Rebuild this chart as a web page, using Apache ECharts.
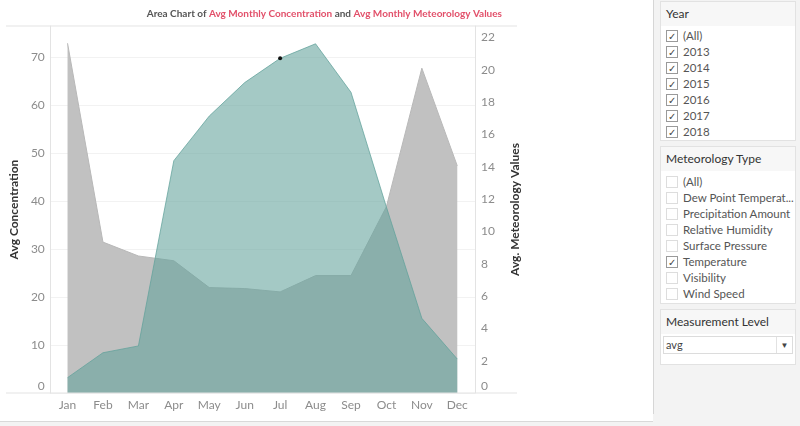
<!DOCTYPE html>
<html>
<head>
<meta charset="utf-8">
<script src="https://cdn.jsdelivr.net/npm/echarts@6/dist/echarts.min.js"></script>
<style>
  body { margin: 0; width: 800px; height: 426px; background: #f3f3f3; position: relative; overflow: hidden; font-family: Lato, "Noto Sans", sans-serif; }
  #chart { position: absolute; left: 0; top: 0; width: 653px; height: 421px; background: #fff; }
  .vline { position: absolute; left: 653px; top: 0; width: 1px; height: 414px; background: #d6d6d6; }
  .hline { position: absolute; left: 0; top: 421px; width: 653px; height: 1px; background: #d9d9d9; }
  .box { position: absolute; left: 660px; width: 136px; background: #fff; border: 1px solid #e2e2e2; box-sizing: border-box; overflow: hidden; }
  .hdr { height: 24px; line-height: 24px; padding-left: 5px; font-size: 12px; color: #333; background: #f7f7f7; }
  .row { height: 16px; line-height: 16px; font-size: 11.5px; color: #555; white-space: nowrap; position: relative; padding-left: 22px; }
  .cb { position: absolute; left: 5px; top: 2px; width: 10px; height: 10px; border: 1px solid #ddd; background: #fff; font-size: 10px; line-height: 10px; text-align: center; color: #444; }
  .cb.on { border-color: #9a9a9a; }
  .dd { margin: 2px 2px 0 2px; height: 16px; border: 1px solid #dcdcdc; font-size: 11px; line-height: 16px; padding-left: 2px; color: #444; position: relative; }
  .dd .arr { position: absolute; right: 0; top: 0; width: 15px; height: 16px; border-left: 1px solid #e2e2e2; text-align: center; font-size: 8px; }
</style>
</head>
<body>
<div id="chart"></div>
<div class="vline"></div>
<div class="hline"></div>
<div id="panel"></div>
<script>
const months = ['Jan', 'Feb', 'Mar', 'Apr', 'May', 'Jun', 'Jul', 'Aug', 'Sep', 'Oct', 'Nov', 'Dec']
// avg concentration, left axis
const concentration = [73.0, 31.5, 28.6, 27.6, 22.0, 21.8, 21.1, 24.5, 24.5, 38.9, 67.8, 47.4]
// avg temperature, right axis
const temperature = [0.95, 2.49, 2.91, 14.37, 17.13, 19.2, 20.7, 21.6, 18.6, 11.5, 4.62, 2.1]
const years = ['(All)', '2013', '2014', '2015', '2016', '2017', '2018']
const meteoTypes = ['(All)', 'Dew Point Temperat...', 'Precipitation Amount', 'Relative Humidity', 'Surface Pressure', 'Temperature', 'Visibility', 'Wind Speed']
const meteoChecked = ['Temperature']
const highlightMonth = 'Jul'

// filter side panel (plain html)
const panel = document.getElementById('panel')
function rows(items, isOn) {
  return items.map(t => '<div class="row"><span class="cb' + (isOn(t) ? ' on' : '') + '">' + (isOn(t) ? '✓' : '') + '</span>' + t + '</div>').join('')
}
panel.innerHTML =
  '<div class="box" style="top:1px;height:140px"><div class="hdr">Year</div><div style="padding-top:2px">' + rows(years, () => true) + '</div></div>' +
  '<div class="box" style="top:146px;height:158px"><div class="hdr">Meteorology Type</div><div style="padding-top:3px">' + rows(meteoTypes, t => meteoChecked.includes(t)) + '</div></div>' +
  '<div class="box" style="top:309px;height:56px"><div class="hdr">Measurement Level</div><div class="dd">avg<span class="arr">▼</span></div></div>'

const myChart = echarts.init(document.getElementById('chart'), null, { renderer: 'canvas' })

const labelStyle = { color: '#8c8c8c', fontSize: 12, fontFamily: 'Lato' }
const nameStyle = { color: '#333', fontSize: 12, fontFamily: 'Lato', fontWeight: 'bold' }

myChart.setOption({
  animation: false,
  title: {
    right: 151,
    top: 9,
    padding: 0,
    text: '{a|Area Chart of }{r|Avg Monthly Concentration}{a| and }{r|Avg Monthly Meteorology Values}',
    textStyle: {
      fontSize: 10,
      fontFamily: 'Lato',
      rich: {
        a: { color: '#555', fontSize: 10, fontFamily: 'Lato' },
        r: { color: '#e2506a', fontSize: 10, fontFamily: 'Lato' },
      },
    },
  },
  grid: { left: 48, right: 178, top: 26, bottom: 28 },
  graphic: [
    { type: 'line', shape: { x1: 6, y1: 26, x2: 517, y2: 26 }, style: { stroke: '#e3e3e3', lineWidth: 1 }, z: 0 },
    { type: 'line', shape: { x1: 6, y1: 393, x2: 517, y2: 393 }, style: { stroke: '#e3e3e3', lineWidth: 1 }, z: 10 },
  ],
  xAxis: {
    type: 'category',
    data: months,
    boundaryGap: true,
    axisLine: { show: false },
    axisTick: { show: false },
    axisLabel: { ...labelStyle, margin: 6 },
  },
  yAxis: [
    {
      type: 'value',
      min: 0,
      max: 76.6,
      interval: 10,
      position: 'left',
      name: 'Avg Concentration',
      nameLocation: 'middle',
      nameRotate: 90,
      nameGap: 28,
      nameTextStyle: nameStyle,
      axisLine: { show: true, lineStyle: { color: '#e3e3e3' } },
      axisTick: { show: false },
      splitLine: { show: true, lineStyle: { color: '#f2f2f2' } },
      axisLabel: {
        ...labelStyle,
        margin: 5,
        showMaxLabel: false,
        formatter: v => (v === 0 ? '{z|0}' : v),
        rich: { z: { ...labelStyle, padding: [0, 0, 14, 0] } },
      },
    },
    {
      type: 'value',
      min: 0,
      max: 22.7,
      interval: 2,
      position: 'right',
      name: 'Avg. Meteorology Values',
      nameLocation: 'middle',
      nameRotate: 90,
      nameGap: 34,
      nameTextStyle: nameStyle,
      axisLine: { show: true, lineStyle: { color: '#e3e3e3' } },
      axisTick: { show: false },
      splitLine: { show: false },
      axisLabel: {
        ...labelStyle,
        margin: 6,
        showMaxLabel: false,
        formatter: v => (v === 0 ? '{z|0}' : v),
        rich: { z: { ...labelStyle, padding: [0, 0, 14, 0] } },
      },
    },
  ],
  series: [
    {
      name: 'Avg Concentration',
      type: 'line',
      yAxisIndex: 0,
      data: concentration,
      symbol: 'none',
      lineStyle: { color: '#b8b8b8', width: 1 },
      areaStyle: { color: '#c1c1c1', opacity: 1 },
      z: 2,
    },
    {
      name: 'Temperature',
      type: 'line',
      yAxisIndex: 1,
      data: temperature.map((v, i) =>
        months[i] === highlightMonth
          ? { value: v, symbol: 'circle', symbolSize: 4, itemStyle: { color: '#111' } }
          : v
      ),
      symbol: 'none',
      showSymbol: true,
      lineStyle: { color: 'rgba(98,162,155,0.75)', width: 1 },
      areaStyle: { color: 'rgb(98,162,155)', opacity: 0.58 },
      z: 3,
    },
  ],
})
</script>
</body>
</html>
